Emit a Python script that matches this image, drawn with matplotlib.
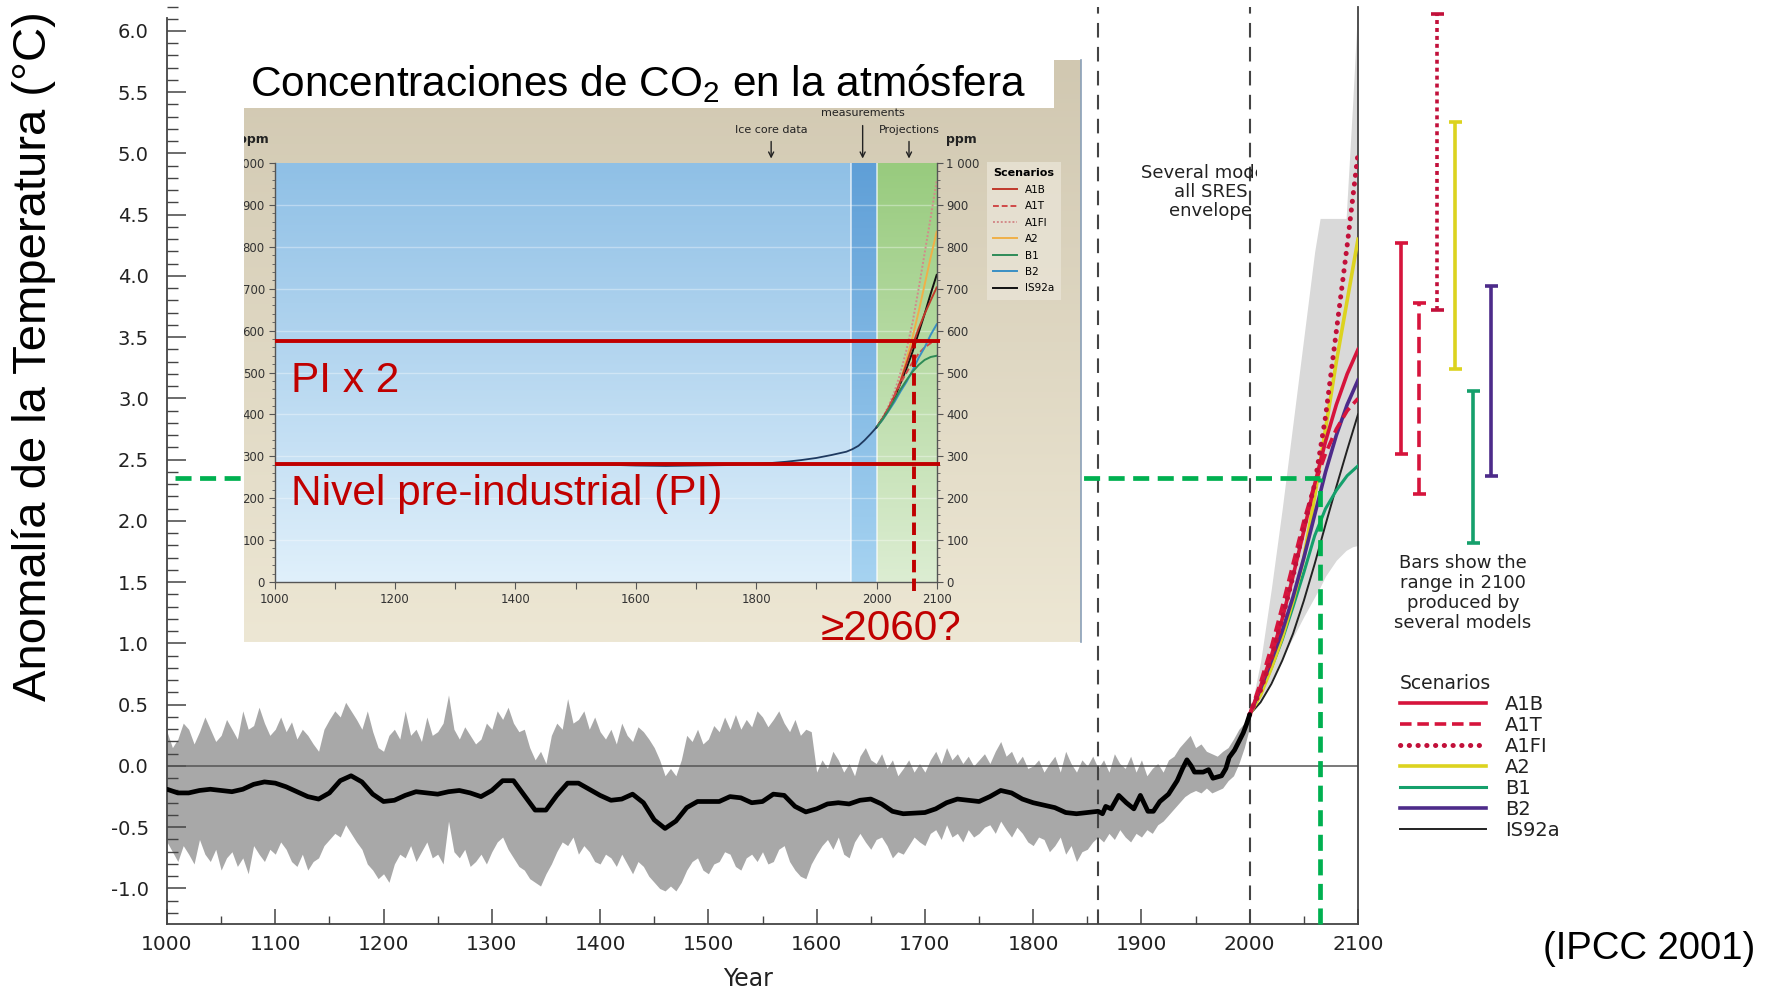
import numpy as np
import matplotlib
matplotlib.use("Agg")
import matplotlib.pyplot as plt
import matplotlib.colors as mcolors
from matplotlib.patches import Rectangle
from matplotlib.transforms import Bbox, TransformedBbox
from matplotlib.ticker import MultipleLocator, FuncFormatter

plt.rcParams['axes.unicode_minus'] = False
plt.rcParams['font.family'] = ['DejaVu Sans']

# ---------------------------------------------------------------- data
band_years = list(range(1000, 2001, 5))
band_upper = [
    0.28, 0.15, 0.22, 0.35, 0.30, 0.18, 0.28, 0.40, 0.30, 0.20,
    0.25, 0.38, 0.30, 0.22, 0.45, 0.30, 0.33, 0.48, 0.35, 0.25,
    0.30, 0.40, 0.28, 0.36, 0.22, 0.30, 0.25, 0.18, 0.12, 0.30,
    0.38, 0.45, 0.40, 0.52, 0.45, 0.38, 0.30, 0.45, 0.28, 0.15,
    0.12, 0.25, 0.30, 0.22, 0.45, 0.25, 0.30, 0.20, 0.40, 0.25,
    0.28, 0.35, 0.58, 0.30, 0.22, 0.32, 0.25, 0.18, 0.22, 0.35,
    0.30, 0.45, 0.38, 0.48, 0.35, 0.28, 0.30, 0.15, 0.05, 0.12,
    0.02, 0.25, 0.35, 0.30, 0.55, 0.35, 0.38, 0.45, 0.30, 0.40,
    0.28, 0.22, 0.30, 0.18, 0.35, 0.25, 0.20, 0.32, 0.28, 0.22,
    0.15, 0.05, -0.08, -0.02, -0.08, 0.05, 0.25, 0.20, 0.30, 0.18,
    0.22, 0.33, 0.28, 0.40, 0.30, 0.42, 0.30, 0.38, 0.32, 0.45,
    0.40, 0.32, 0.38, 0.45, 0.35, 0.28, 0.38, 0.25, 0.30, 0.28,
    -0.05, 0.05, -0.02, 0.12, 0.05, -0.05, 0.02, -0.08, 0.08, 0.15,
    0.05, 0.02, 0.10, -0.02, 0.05, -0.08, -0.02, 0.05, -0.05, 0.02,
    -0.05, 0.05, 0.12, 0.02, 0.15, 0.05, 0.10, 0.02, 0.08, 0.00,
    0.05, 0.10, 0.02, 0.12, 0.20, 0.08, 0.12, 0.02, 0.08, -0.02,
    0.00, 0.05, -0.05, 0.02, 0.08, -0.05, 0.12, 0.02, -0.05, 0.05,
    0.00, 0.08, -0.02, 0.05, -0.05, 0.10, 0.02, -0.02, 0.08, -0.05,
    0.05, -0.08, -0.02, 0.02, -0.05, 0.05, 0.08, 0.15, 0.20, 0.25,
    0.15, 0.18, 0.12, 0.10, 0.08, 0.12, 0.15, 0.22, 0.30, 0.35,
    0.45]
band_lower = [
    -0.62, -0.70, -0.78, -0.65, -0.72, -0.80, -0.60, -0.72, -0.78, -0.68,
    -0.85, -0.75, -0.70, -0.82, -0.75, -0.88, -0.65, -0.72, -0.78, -0.68,
    -0.72, -0.62, -0.68, -0.78, -0.82, -0.72, -0.85, -0.78, -0.75, -0.65,
    -0.60, -0.55, -0.58, -0.48, -0.55, -0.62, -0.68, -0.80, -0.85, -0.92,
    -0.88, -0.95, -0.80, -0.72, -0.75, -0.65, -0.78, -0.70, -0.62, -0.75,
    -0.72, -0.80, -0.45, -0.70, -0.75, -0.68, -0.82, -0.78, -0.72, -0.80,
    -0.70, -0.62, -0.58, -0.68, -0.75, -0.82, -0.85, -0.92, -0.95, -0.98,
    -0.88, -0.80, -0.70, -0.62, -0.65, -0.58, -0.72, -0.65, -0.70, -0.78,
    -0.80, -0.72, -0.75, -0.82, -0.72, -0.80, -0.88, -0.78, -0.82, -0.90,
    -0.95, -1.00, -1.02, -0.98, -1.02, -0.95, -0.85, -0.78, -0.75, -0.85,
    -0.88, -0.80, -0.78, -0.70, -0.72, -0.82, -0.85, -0.75, -0.72, -0.78,
    -0.70, -0.80, -0.78, -0.68, -0.65, -0.78, -0.85, -0.90, -0.92, -0.80,
    -0.72, -0.65, -0.60, -0.68, -0.58, -0.72, -0.75, -0.62, -0.55, -0.62,
    -0.68, -0.60, -0.58, -0.65, -0.75, -0.70, -0.72, -0.65, -0.58, -0.62,
    -0.65, -0.55, -0.52, -0.60, -0.48, -0.58, -0.55, -0.62, -0.52, -0.58,
    -0.55, -0.50, -0.48, -0.55, -0.45, -0.52, -0.58, -0.50, -0.55, -0.62,
    -0.65, -0.58, -0.60, -0.70, -0.65, -0.58, -0.72, -0.65, -0.78, -0.70,
    -0.68, -0.62, -0.58, -0.62, -0.55, -0.60, -0.52, -0.58, -0.62, -0.55,
    -0.58, -0.52, -0.55, -0.48, -0.45, -0.40, -0.35, -0.30, -0.25, -0.22,
    -0.20, -0.22, -0.18, -0.22, -0.20, -0.18, -0.12, -0.08, 0.02, 0.15,
    0.32]

smooth_years = list(range(1000, 1861, 10)) + [
    1864, 1867, 1872, 1879, 1886, 1893, 1899, 1906, 1911, 1917, 1925, 1933,
    1938, 1942, 1946, 1949, 1957, 1962, 1966, 1974, 1978, 1981, 1986, 1990,
    1994, 1997, 2000]
smooth_temp = [
    -0.19, -0.22, -0.22, -0.20, -0.19, -0.20, -0.21, -0.19, -0.15, -0.13,
    -0.14, -0.17, -0.21, -0.25, -0.27, -0.22, -0.12, -0.08, -0.13, -0.23,
    -0.29, -0.28, -0.24, -0.21, -0.22, -0.23, -0.21, -0.20, -0.22, -0.25,
    -0.20, -0.12, -0.12, -0.24, -0.36, -0.36, -0.24, -0.14, -0.14, -0.19,
    -0.24, -0.28, -0.27, -0.23, -0.30, -0.44, -0.51, -0.45, -0.34, -0.29,
    -0.29, -0.29, -0.25, -0.26, -0.30, -0.29, -0.23, -0.24, -0.33, -0.375,
    -0.35, -0.31, -0.30, -0.31, -0.28, -0.27, -0.31, -0.37, -0.39, -0.385,
    -0.38, -0.35, -0.30, -0.27, -0.28, -0.29, -0.25, -0.20, -0.22, -0.27,
    -0.30, -0.32, -0.34, -0.38, -0.39, -0.38, -0.37,
    -0.39, -0.33, -0.35, -0.24, -0.30, -0.35, -0.24, -0.37, -0.37, -0.29,
    -0.23, -0.12, -0.02, 0.05, 0.00, -0.05, -0.05, -0.03, -0.10, -0.08,
    -0.02, 0.07, 0.13, 0.20, 0.27, 0.34, 0.42]

proj_years = list(range(2000, 2101, 10))
temp_A1B = [0.42, 0.65, 0.90, 1.20, 1.55, 1.92, 2.30, 2.65, 2.95, 3.20, 3.40]
temp_A1T = [0.42, 0.68, 0.97, 1.30, 1.65, 2.00, 2.30, 2.55, 2.75, 2.90, 3.00]
temp_A1FI = [0.42, 0.62, 0.88, 1.20, 1.55, 1.95, 2.30, 2.85, 3.55, 4.25, 5.00]
temp_A2 = [0.42, 0.58, 0.80, 1.05, 1.35, 1.70, 2.20, 2.75, 3.30, 3.80, 4.30]
temp_B1 = [0.42, 0.60, 0.80, 1.03, 1.30, 1.58, 1.88, 2.10, 2.25, 2.37, 2.45]
temp_B2 = [0.42, 0.63, 0.86, 1.10, 1.38, 1.70, 2.05, 2.40, 2.70, 2.95, 3.15]
temp_IS92a = [0.42, 0.52, 0.67, 0.86, 1.08, 1.35, 1.65, 1.97, 2.28, 2.58, 2.87]

env_years = [2000, 2010, 2020, 2030, 2040, 2050, 2060, 2065, 2070, 2080, 2089, 2095, 2100]
env_upper = [0.42, 0.85, 1.45, 2.10, 2.80, 3.50, 4.20, 4.47, 4.47, 4.47, 4.47, 5.40, 6.25]
env_lower = [0.42, 0.55, 0.70, 0.88, 1.05, 1.22, 1.38, 1.46, 1.55, 1.68, 1.76, 1.79, 1.80]

bar_scenarios = ['A1B', 'A1T', 'A1FI', 'A2', 'B1', 'B2']
bar_low = [2.55, 2.22, 3.72, 3.24, 1.82, 2.37]
bar_high = [4.27, 3.78, 6.14, 5.26, 3.06, 3.92]

co2_years = [1000, 1050, 1100, 1150, 1200, 1250, 1300, 1350, 1400, 1450, 1500,
             1550, 1600, 1650, 1700, 1750, 1800, 1825, 1850, 1875, 1900, 1925,
             1950, 1960, 1970, 1980, 1990, 2000]
co2_ppm = [280, 281, 280, 282, 281, 282, 281, 280, 279, 280, 281, 280, 278, 277,
           278, 279, 282, 284, 287, 291, 296, 303, 311, 317, 325, 338, 353, 369]
co2_A1B = [369, 390, 415, 445, 480, 522, 565, 605, 640, 672, 703]
co2_A1T = [369, 390, 415, 445, 475, 500, 525, 545, 560, 570, 575]
co2_A1FI = [369, 392, 420, 455, 500, 555, 620, 700, 785, 870, 958]
co2_A2 = [369, 388, 412, 440, 480, 532, 585, 645, 710, 775, 836]
co2_B1 = [369, 388, 410, 435, 460, 482, 502, 518, 530, 537, 540]
co2_B2 = [369, 387, 408, 430, 455, 478, 505, 535, 560, 590, 615]
co2_IS92a = [369, 390, 412, 440, 475, 510, 550, 595, 640, 688, 733]

pi_ppm = 281
pi2_ppm = 575
co2_double_year = 2062
temp_double_year = 2065
temp_at_double = 2.35
measure_start = 1958

scen_labels = ['A1B', 'A1T', 'A1FI', 'A2', 'B1', 'B2', 'IS92a']

# ---------------------------------------------------------------- layout helpers
W, H = 1771, 989
fig = plt.figure(figsize=(W / 100, H / 100), dpi=100)
fig.patch.set_facecolor('white')


def fx(x):
    return x / W


def fy(y):
    return 1 - y / H


def vgrad(top, bottom, n=256):
    t = np.linspace(0, 1, n)[:, None]
    c0 = np.array(mcolors.to_rgb(top))
    c1 = np.array(mcolors.to_rgb(bottom))
    return (c0 * (1 - t) + c1 * t)[:, None, :]


ARIAL = ['Liberation Sans', 'DejaVu Sans']

# ---------------------------------------------------------------- main axes
ax = fig.add_axes([fx(167), fy(924), fx(1358) - fx(167), fy(6.5) - fy(924)], zorder=0)
ax.set_xlim(1000, 2100)
ax.set_ylim(-1.29, 6.2)

ax.fill_between(band_years, band_lower, band_upper, color='#a8a8a8', lw=0, zorder=1)
ax.fill_between(env_years, env_lower, env_upper, color='#d9d9d9', lw=0, zorder=1)
ax.axhline(0, color='#555555', lw=1.1, zorder=2)
for xv in (1860, 2000):
    ax.axvline(xv, color='#444444', lw=1.5, ls=(0, (7, 4.5)), zorder=2)

scol = {'A1B': '#d6143c', 'A1T': '#d6143c', 'A1FI': '#c2103a', 'A2': '#dcd31f',
        'B1': '#15a06c', 'B2': '#4d2b8a', 'IS92a': '#222222'}
sstyle = {'A1B': dict(ls='-', lw=2.6), 'A1T': dict(ls=(0, (3.2, 1.6)), lw=2.6),
          'A1FI': dict(ls=(0, (0.05, 1.7)), lw=3.6, dash_capstyle='round'),
          'A2': dict(ls='-', lw=2.6), 'B1': dict(ls='-', lw=2.2),
          'B2': dict(ls='-', lw=2.6), 'IS92a': dict(ls='-', lw=1.4)}
temps = {'A1B': temp_A1B, 'A1T': temp_A1T, 'A1FI': temp_A1FI, 'A2': temp_A2,
         'B1': temp_B1, 'B2': temp_B2, 'IS92a': temp_IS92a}
order = ['IS92a', 'B1', 'A2', 'B2', 'A1T', 'A1B', 'A1FI']
lines = {}
for s in order:
    lines[s], = ax.plot(proj_years, temps[s], color=scol[s], zorder=3, **sstyle[s])

ax.plot(smooth_years, smooth_temp, color='black', lw=3.4, zorder=4,
        solid_joinstyle='round', solid_capstyle='round')

# green dashed guides
ax.plot([1007, temp_double_year], [temp_at_double, temp_at_double], color='#00b050',
        lw=3.4, ls=(0, (3.4, 1.8)), zorder=5)
ax.plot([temp_double_year, temp_double_year], [-1.29, temp_at_double], color='#00b050',
        lw=3.4, ls=(0, (3.4, 1.8)), zorder=5, clip_on=False)

# range bars beyond 2100
bar_x0, bar_dx, cap = 2140, 16.6, 6
bar_styles = {'A1B': '-', 'A1T': (0, (4.5, 2)), 'A1FI': (0, (1.1, 1.1)), 'A2': '-', 'B1': '-', 'B2': '-'}
for i, s in enumerate(bar_scenarios):
    xb = bar_x0 + i * bar_dx
    ax.vlines(xb, bar_low[i], bar_high[i], colors=scol[s], lw=2.6,
              linestyles=[bar_styles[s]], clip_on=False, zorder=3)
    ax.hlines([bar_low[i], bar_high[i]], xb - cap, xb + cap, colors=scol[s], lw=2.6,
              clip_on=False, zorder=3)

# axes styling
ax.spines['top'].set_visible(False)
for sp in ('left', 'bottom', 'right'):
    ax.spines[sp].set_color('#444444')
    ax.spines[sp].set_linewidth(1.3)
ax.spines['left'].set_bounds(-1.29, 6.11)
ax.yaxis.set_major_locator(MultipleLocator(0.5))
ax.yaxis.set_minor_locator(MultipleLocator(0.1))
ax.yaxis.set_major_formatter(FuncFormatter(lambda v, p: f"{v:.1f}"))
ax.xaxis.set_major_locator(MultipleLocator(100))
ax.xaxis.set_minor_locator(MultipleLocator(50))
ax.tick_params(axis='y', which='major', direction='in', length=14, width=1.1,
               colors='#444444', labelcolor='#222222', labelsize=14, pad=13)
ax.tick_params(axis='y', which='minor', direction='in', length=8, width=1.0, colors='#444444')
ax.tick_params(axis='x', which='major', direction='in', length=11, width=1.1,
               colors='#444444', labelcolor='#222222', labelsize=14.5, pad=8)
ax.tick_params(axis='x', which='minor', direction='in', length=6, width=1.0, colors='#444444')
ax.tick_params(axis='y', which='both', right=False)

fig.text(fx(748), fy(979), 'Year', ha='center', va='center', fontsize=17, color='#222222')

leg = ax.legend([lines[s] for s in scen_labels], scen_labels, title='Scenarios',
                loc='upper left', bbox_to_anchor=(fx(1400), fy(674)),
                bbox_transform=fig.transFigure, frameon=False, fontsize=14,
                title_fontsize=13.5, handlelength=4.4, handletextpad=1.0,
                labelspacing=0.1, borderaxespad=0, borderpad=0, alignment='left')
for t in leg.get_texts():
    t.set_color('#222222')
leg.get_title().set_color('#222222')

fig.text(fx(1463), fy(593), 'Bars show the\nrange in 2100\nproduced by\nseveral models',
         ha='center', va='center', fontsize=13, linespacing=1.15, color='#222222')

sev = fig.text(fx(1211), fy(192), 'Several models\nall SRES\nenvelope', ha='center',
               va='center', fontsize=13, linespacing=1.05, color='#222222')
sev.set_clip_box(TransformedBbox(Bbox([[0, 0], [fx(1257), 1]]), fig.transFigure))
sev.set_clip_on(True)

fig.text(fx(34), fy(356), 'Anomalía de la Temperatura (°C)', rotation=90, ha='center',
         va='center', fontsize=34, family=ARIAL, color='black')
fig.text(fx(1649), fy(949), '(IPCC 2001)', ha='center', va='center', fontsize=27.5,
         family=ARIAL, color='black')

# ---------------------------------------------------------------- inset background
ax_bg = fig.add_axes([fx(244), fy(642), fx(1081) - fx(244), fy(60) - fy(642)], zorder=1)
ax_bg.set_xlim(0, 1)
ax_bg.set_ylim(0, 1)
ax_bg.imshow(vgrad('#d1c8b1', '#ede7d4'), extent=(0, 1, 0, 1), aspect='auto', zorder=0)
ax_bg.axis('off')
tb_h = (108 - 60) / (642 - 60)
ax_bg.add_patch(Rectangle((0, 1 - tb_h), (1054 - 244) / (1081 - 244), tb_h,
                          transform=ax_bg.transAxes, facecolor='white', edgecolor='none', zorder=1))
ax_bg.plot([1, 1], [0, 1], color='#8aa0b8', lw=1.2, transform=ax_bg.transAxes, zorder=2, clip_on=False)
fig.text(fx(250), fy(96), 'Concentraciones de CO$_\\mathregular{2}$ en la atmósfera',
         ha='left', va='baseline', fontsize=30.5, family=ARIAL, color='black', zorder=5)

# ---------------------------------------------------------------- inset axes
ax_in = fig.add_axes([fx(274.5), fy(582), fx(936.7) - fx(274.5), fy(163) - fy(582)], zorder=2)
ax_in.patch.set_alpha(0)
ax_in.imshow(vgrad('#8fc0e6', '#e0f0fb'), extent=(1000, measure_start, 0, 1000), aspect='auto', zorder=0)
ax_in.imshow(vgrad('#5f9fd7', '#a6d3f1'), extent=(measure_start, 2000, 0, 1000), aspect='auto', zorder=0)
ax_in.imshow(vgrad('#98cb7e', '#dcedd2'), extent=(2000, 2100, 0, 1000), aspect='auto', zorder=0)
ax_in.set_xlim(1000, 2100)
ax_in.set_ylim(0, 1000)
for yv in range(100, 1000, 100):
    ax_in.axhline(yv, color='white', lw=1.0, alpha=0.35, zorder=0.5)
for xv in (measure_start, 2000):
    ax_in.axvline(xv, color='white', lw=1.2, alpha=0.7, zorder=0.5)

ccol = {'A1B': '#c0392b', 'A1T': '#d04848', 'A1FI': '#d38a8a', 'A2': '#f0b048',
        'B1': '#2e8b57', 'B2': '#3a8fc4', 'IS92a': '#111111'}
cstyle = {'A1B': '-', 'A1T': (0, (3, 1.5)), 'A1FI': (0, (1, 1)), 'A2': '-', 'B1': '-',
          'B2': '-', 'IS92a': '-'}
co2s = {'A1B': co2_A1B, 'A1T': co2_A1T, 'A1FI': co2_A1FI, 'A2': co2_A2, 'B1': co2_B1,
        'B2': co2_B2, 'IS92a': co2_IS92a}
clines = {}
for s in ['A1FI', 'A2', 'IS92a', 'A1B', 'A1T', 'B2', 'B1']:
    clines[s], = ax_in.plot(proj_years, co2s[s], color=ccol[s], ls=cstyle[s], lw=1.4, zorder=2)
ax_in.plot(co2_years, co2_ppm, color='#1f3a60', lw=1.3, zorder=2)

ax_in.hlines([pi_ppm, pi2_ppm], 1000, 2106, colors='#c00000', lw=2.8, zorder=4, clip_on=False)
ax_in.vlines(co2_double_year, -22, pi2_ppm, colors='#c00000', lw=2.8,
             linestyles=[(0, (3.2, 1.6))], zorder=4, clip_on=False)
fig.text(fx(291), fy(392), 'PI x 2', ha='left', va='baseline', fontsize=30.5,
         family=ARIAL, color='#c00000', zorder=6)
fig.text(fx(291), fy(505), 'Nivel pre-industrial (PI)', ha='left', va='baseline',
         fontsize=30.5, family=ARIAL, color='#c00000', zorder=6)
fig.text(fx(821), fy(640), '≥2060?', ha='left', va='baseline', fontsize=30.5,
         family=ARIAL, color='#c00000', zorder=6)

ax_in.spines['top'].set_visible(False)
for sp in ('left', 'bottom', 'right'):
    ax_in.spines[sp].set_color('#555555')
    ax_in.spines[sp].set_linewidth(1.0)
ax_in.yaxis.set_major_locator(MultipleLocator(100))
ax_in.yaxis.set_minor_locator(MultipleLocator(20))
ax_in.yaxis.set_major_formatter(FuncFormatter(lambda v, p: '1 000' if v == 1000 else f"{int(v)}"))
ax_in.xaxis.set_major_locator(MultipleLocator(100))
ax_in.xaxis.set_major_formatter(FuncFormatter(
    lambda v, p: f"{int(v)}" if int(v) in (1000, 1200, 1400, 1600, 1800, 2000, 2100) else ''))
ax_in.tick_params(axis='y', which='both', left=True, right=True, labelleft=True,
                  labelright=True, direction='out', colors='#555555', labelcolor='#333333')
ax_in.tick_params(axis='y', which='major', length=4, labelsize=8.5, pad=3)
ax_in.tick_params(axis='y', which='minor', length=2)
ax_in.tick_params(axis='x', which='major', direction='out', length=5, labelsize=8.5,
                  colors='#555555', labelcolor='#333333', pad=3)

# annotations above inset
arrow = dict(arrowstyle='->', color='#222222', lw=1.0, mutation_scale=9)
ax_in.annotate('Ice core data', xy=(1825, 1004), xytext=(1825, 1068), ha='center',
               va='bottom', fontsize=8, color='#222222', annotation_clip=False)
ax_in.annotate('', xy=(1825, 1004), xytext=(1825, 1058), arrowprops=arrow, annotation_clip=False)
ax_in.annotate('measurements', xy=(1977, 1004), xytext=(1977, 1108), ha='center',
               va='bottom', fontsize=8, color='#222222', annotation_clip=False)
ax_in.annotate('', xy=(1977, 1004), xytext=(1977, 1096), arrowprops=arrow, annotation_clip=False)
ax_in.annotate('Projections', xy=(2054, 1004), xytext=(2054, 1068), ha='center',
               va='bottom', fontsize=8, color='#222222', annotation_clip=False)
ax_in.annotate('', xy=(2054, 1004), xytext=(2054, 1058), arrowprops=arrow, annotation_clip=False)

clipbox = TransformedBbox(Bbox([[fx(244), 0], [1, 1]]), fig.transFigure)
pl = fig.text(fx(269), fy(140), 'ppm', ha='right', va='center', fontsize=9,
              fontweight='bold', color='#222222', zorder=6)
pl.set_clip_box(clipbox)
pl.set_clip_on(True)
fig.text(fx(946), fy(140), 'ppm', ha='left', va='center', fontsize=9,
         fontweight='bold', color='#222222', zorder=6)

ileg = ax_in.legend([clines[s] for s in scen_labels], scen_labels, title='Scenarios',
                    loc='upper left', bbox_to_anchor=(fx(987), fy(162)),
                    bbox_transform=fig.transFigure, frameon=True, fontsize=7.5,
                    title_fontsize=8, handlelength=2.3, handletextpad=0.7,
                    labelspacing=0.62, borderaxespad=0, borderpad=0.6, alignment='left',
                    fancybox=False)
ileg.get_frame().set_facecolor('#e9e4d6')
ileg.get_frame().set_edgecolor('none')
ileg.get_title().set_fontweight('bold')

fig.canvas.draw()
for lbl in ax_in.get_yticklabels():
    lbl.set_clip_box(clipbox)
    lbl.set_clip_on(True)

fig.savefig('out.png', dpi=100, facecolor='white')
